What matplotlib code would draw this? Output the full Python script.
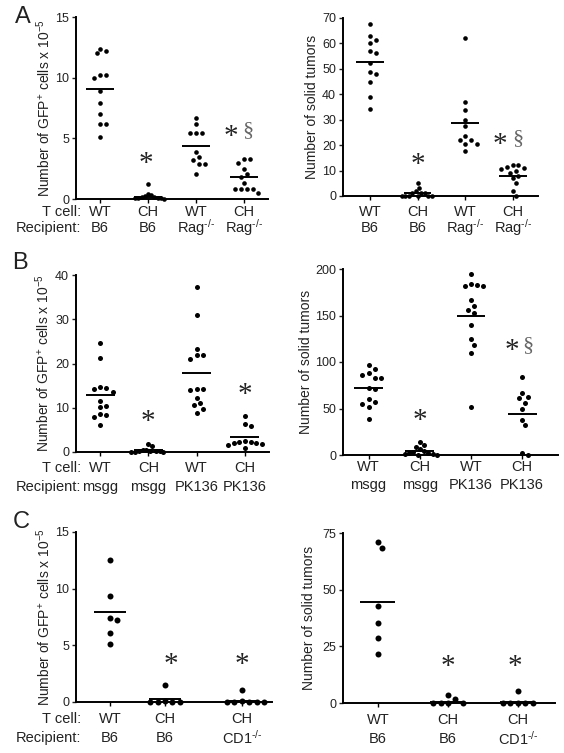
import numpy as np
import matplotlib.pyplot as plt
from matplotlib.transforms import blended_transform_factory, ScaledTranslation

plt.rcParams['font.family'] = ['Liberation Sans', 'DejaVu Sans']
plt.rcParams['mathtext.fontset'] = 'custom'
plt.rcParams['mathtext.rm'] = 'Liberation Sans'
plt.rcParams['mathtext.it'] = 'Liberation Sans:italic'
plt.rcParams['mathtext.bf'] = 'Liberation Sans:bold'

INK = '#222222'
W, H = 564, 753
KO = '$\\mathregular{^{\u2010/\u2010}}$'

# ---- panel A: WT / CH T cells into B6 or Rag-/- recipients
a_tcell = ['WT', 'CH', 'WT', 'CH']
a_recipient = ['B6', 'B6', 'Rag' + KO, 'Rag' + KO]
a_gfp_wt_b6 = [12.4, 12.0, 12.2, 10.2, 10.0, 10.2, 8.9, 7.9, 7.0, 6.2, 6.2, 5.1]
a_gfp_ch_b6 = [1.2, 0.4, 0.3, 0.25, 0.2, 0.15, 0.1, 0.1, 0.05, 0.05, 0.02]
a_gfp_wt_rag = [6.7, 6.2, 5.4, 5.4, 5.4, 3.9, 3.5, 3.2, 2.9, 2.9, 2.1]
a_gfp_ch_rag = [3.3, 3.3, 3.0, 2.5, 2.1, 1.8, 1.3, 0.85, 0.85, 0.85, 0.85, 0.5]
a_gfp_lines = [9.05, 0.2, 4.35, 1.8]
a_tum_wt_b6 = [67.8, 62.9, 61.2, 60.0, 57.0, 56.1, 52.2, 48.9, 48.0, 44.9, 38.8, 34.1]
a_tum_ch_b6 = [5, 3, 2, 1, 1, 1, 0, 0, 0, 0, 0, 0]
a_tum_wt_rag = [62, 37, 34, 30, 27.5, 23.5, 22, 22, 20.5, 20.5, 17.7]
a_tum_ch_rag = [12, 12, 11.5, 11, 10.5, 10, 9, 8, 7, 5, 2, 0]
a_tum_lines = [52.6, 1.2, 28.9, 7.8]

# ---- panel B: msgg vs PK136 recipients
b_tcell = ['WT', 'CH', 'WT', 'CH']
b_recipient = ['msgg', 'msgg', 'PK136', 'PK136']
b_gfp_wt_msgg = [24.6, 21.2, 14.8, 14.5, 14.2, 13.5, 11.6, 10.5, 10.2, 8.5, 8.3, 7.8, 6.2]
b_gfp_ch_msgg = [1.8, 1.4, 0.5, 0.4, 0.3, 0.3, 0.2, 0.2, 0.1, 0.1, 0.1]
b_gfp_wt_pk = [37.4, 31.0, 23.3, 21.9, 21.9, 21.0, 14.2, 14.2, 13.9, 12.3, 11.0, 10.6, 9.8, 8.8]
b_gfp_ch_pk = [8.1, 6.3, 5.9, 2.5, 2.2, 2.0, 2.2, 2.0, 1.8, 1.5, 0.9]
b_gfp_lines = [12.8, 0.4, 17.9, 3.5]
b_tum_wt_msgg = [96.8, 92, 87.8, 86, 83, 82.5, 72, 71, 60, 57.3, 54.5, 52, 38.3]
b_tum_ch_msgg = [14, 11, 9, 6, 4, 3, 2, 2, 1, 1, 0, 0]
b_tum_wt_pk = [194.6, 183.5, 182.8, 181.7, 181.7, 166.7, 160.5, 155.9, 152.3,
               139.8, 124.7, 118.3, 109.4, 51.3]
b_tum_ch_pk = [84, 67, 62, 61, 56, 49, 38, 32, 2, 0]
b_tum_lines = [71.7, 4, 149.8, 44.5]

# ---- panel C: CD1-/- recipients
c_tcell = ['WT', 'CH', 'CH']
c_recipient = ['B6', 'B6', 'CD1' + KO]
c_gfp_wt_b6 = [12.5, 9.35, 7.45, 7.2, 6.1, 5.1]
c_gfp_ch_b6 = [1.5, 0.1, 0, 0, 0, 0]
c_gfp_ch_cd1 = [1.05, 0.05, 0, 0, 0, 0, 0]
c_gfp_lines = [7.95, 0.25, 0.12]
c_tum_wt_b6 = [71.2, 68.2, 42.8, 35.4, 28.8, 21.6]
c_tum_ch_b6 = [3.5, 1.6, 0, 0, 0, 0]
c_tum_ch_cd1 = [5.4, 0, 0, 0, 0, 0]
c_tum_lines = [44.7, 0.4, 0.4]

GFP_LABEL = r'Number of GFP$\mathregular{^{+}}$ cells x 10$\mathregular{^{-5}}$'
TUM_LABEL = 'Number of solid tumors'


def px_rect(x0, y0, x1, y1):
    return [x0 / W, 1 - y1 / H, (x1 - x0) / W, (y1 - y0) / H]


def swarm(vals, sx, sy, diam, cap):
    # beeswarm-ish sideways spread in pixel space, squeezed if wider than cap
    ys = np.asarray(vals, float) * sy
    out = np.zeros(len(ys))
    done = []
    step = 0.62 * diam
    for i in np.argsort(-ys):
        for k in [0, 1, -1, 2, -2, 3, -3, 4, -4, 5, -5, 6, -6, 7, -7, 8, -8, 9, -9, 10, -10]:
            x = k * step
            if all((x - px) ** 2 + (ys[i] - py) ** 2 >= (1.2 * diam) ** 2 for px, py in done):
                break
        done.append((x, ys[i]))
        out[i] = x
    wide = np.abs(out).max()
    if wide > cap:
        out = out * cap / wide
    return out / sx


def panel(rect, groups, lines, pos, xlim, ylim, yticks, ylabel, lab_x,
          diam, half, cap, rows, tcell, recip, marks, left_names=False):
    ax = fig.add_axes(px_rect(*rect))
    ax.set_xlim(*xlim)
    ax.set_ylim(*ylim)
    ax.set_yticks(yticks)
    ax.set_xticks(pos)
    ax.set_xticklabels([])
    for s in ['top', 'right']:
        ax.spines[s].set_visible(False)
    for s in ['left', 'bottom']:
        ax.spines[s].set_linewidth(1.4)
    ax.tick_params(axis='y', length=3, width=1, labelsize=9, colors=INK, pad=2)
    ax.tick_params(axis='x', length=3, width=1)
    ax.set_ylabel(ylabel, fontsize=10, color=INK, va='center')
    ax.yaxis.set_label_coords(lab_x, 0.5)

    p0 = ax.transData.transform((0, 0))
    p1 = ax.transData.transform((1, 1))
    sx, sy = p1[0] - p0[0], p1[1] - p0[1]
    ms = diam * 72 / 100
    for x0, vals, m in zip(pos, groups, lines):
        off = swarm(vals, sx, sy, diam, cap)
        ax.plot(x0 + off, vals, 'o', color='black', ms=ms, mew=0, clip_on=False, zorder=3)
        ax.plot([x0 - half, x0 + half], [m, m], color='black', lw=1.4,
                solid_capstyle='butt', clip_on=False, zorder=4)

    for gi, dx, y, txt, col in marks:
        if txt == '*':
            fs = 21
            tr = ax.transData + ScaledTranslation(0, -0.2 * fs / 72, fig.dpi_scale_trans)
        else:
            fs = 16
            tr = ax.transData
        ax.text(pos[gi] + dx, y, txt, ha='center', va='center', fontsize=fs,
                family='Liberation Serif', color=col, transform=tr)

    tr = blended_transform_factory(ax.transData, fig.transFigure)
    for x0, t, r in zip(pos, tcell, recip):
        ax.text(x0, 1 - rows[0] / H, t, transform=tr, ha='center', va='center',
                fontsize=10.5, color=INK)
        ax.text(x0, 1 - rows[1] / H, r, transform=tr, ha='center', va='center',
                fontsize=10.5, color=INK)
    if left_names:
        fig.text(81 / W, 1 - rows[0] / H, 'T cell:', ha='right', va='center',
                 fontsize=10.5, color=INK)
        fig.text(81 / W, 1 - rows[1] / H, 'Recipient:', ha='right', va='center',
                 fontsize=10.5, color=INK)
    return ax


fig = plt.figure(figsize=(W / 100, H / 100), dpi=100)

STAR = '#222222'
SECT = '#666666'

# A
panel((76, 17, 268, 199),
      [a_gfp_wt_b6, a_gfp_ch_b6, a_gfp_wt_rag, a_gfp_ch_rag], a_gfp_lines,
      [0, 1, 2, 3], (-0.5, 3.5), (0, 15), [0, 5, 10, 15], GFP_LABEL, -0.17,
      4.6, 0.29, 16, (212, 228), a_tcell, a_recipient,
      [(1, -0.05, 3.4, '*', STAR), (3, -0.28, 5.6, '*', STAR), (3, 0.08, 5.6, '§', SECT)],
      left_names=True)
panel((343, 18, 538, 196),
      [a_tum_wt_b6, a_tum_ch_b6, a_tum_wt_rag, a_tum_ch_rag], a_tum_lines,
      [0, 1, 2, 3], (-0.57, 3.53), (0, 70), range(0, 71, 10), TUM_LABEL, -0.16,
      4.6, 0.29, 16, (212, 228), a_tcell, a_recipient,
      [(1, 0, 14.5, '*', STAR), (3, -0.28, 22.5, '*', STAR), (3, 0.1, 22.5, '§', SECT)])

# B
panel((76, 275, 269, 452),
      [b_gfp_wt_msgg, b_gfp_ch_msgg, b_gfp_wt_pk, b_gfp_ch_pk], b_gfp_lines,
      [0, 1, 2, 3], (-0.5, 3.5), (0, 40), [0, 10, 20, 30, 40], GFP_LABEL, -0.17,
      5.0, 0.3, 17, (468, 487), b_tcell, b_recipient,
      [(1, 0, 8.0, '*', STAR), (3, 0, 14.3, '*', STAR)],
      left_names=True)
panel((343, 269, 558, 455),
      [b_tum_wt_msgg, b_tum_ch_msgg, b_tum_wt_pk, b_tum_ch_pk], b_tum_lines,
      [0, 1, 2, 3], (-0.5, 3.7), (0, 200), [0, 50, 100, 150, 200], TUM_LABEL, -0.17,
      5.0, 0.28, 17, (467, 485), b_tcell, b_recipient,
      [(1, 0, 43, '*', STAR), (3, -0.2, 118, '*', STAR), (3, 0.12, 118, '§', SECT)])

# C
panel((76, 532, 272, 702),
      [c_gfp_wt_b6, c_gfp_ch_b6, c_gfp_ch_cd1], c_gfp_lines,
      [0, 1, 2.4], (-0.62, 2.95), (0, 15), [0, 5, 10, 15], GFP_LABEL, -0.165,
      6.0, 0.29, 28, (719, 738), c_tcell, c_recipient,
      [(1, 0.1, 3.8, '*', STAR), (2, 0, 3.8, '*', STAR)],
      left_names=True)
panel((343, 533, 555, 703),
      [c_tum_wt_b6, c_tum_ch_b6, c_tum_ch_cd1], c_tum_lines,
      [0, 1, 2], (-0.5, 2.53), (0, 75), [0, 25, 50, 75], TUM_LABEL, -0.16,
      6.0, 0.25, 28, (720, 739), c_tcell, c_recipient,
      [(1, 0, 18.5, '*', STAR), (2, -0.05, 18.5, '*', STAR)])

for letter, x, y in [('A', 15, 17), ('B', 12, 263), ('C', 13, 522)]:
    fig.text(x / W, 1 - y / H, letter, fontsize=17, ha='left', va='center', color=INK)

fig.savefig('out.png', dpi=100)
